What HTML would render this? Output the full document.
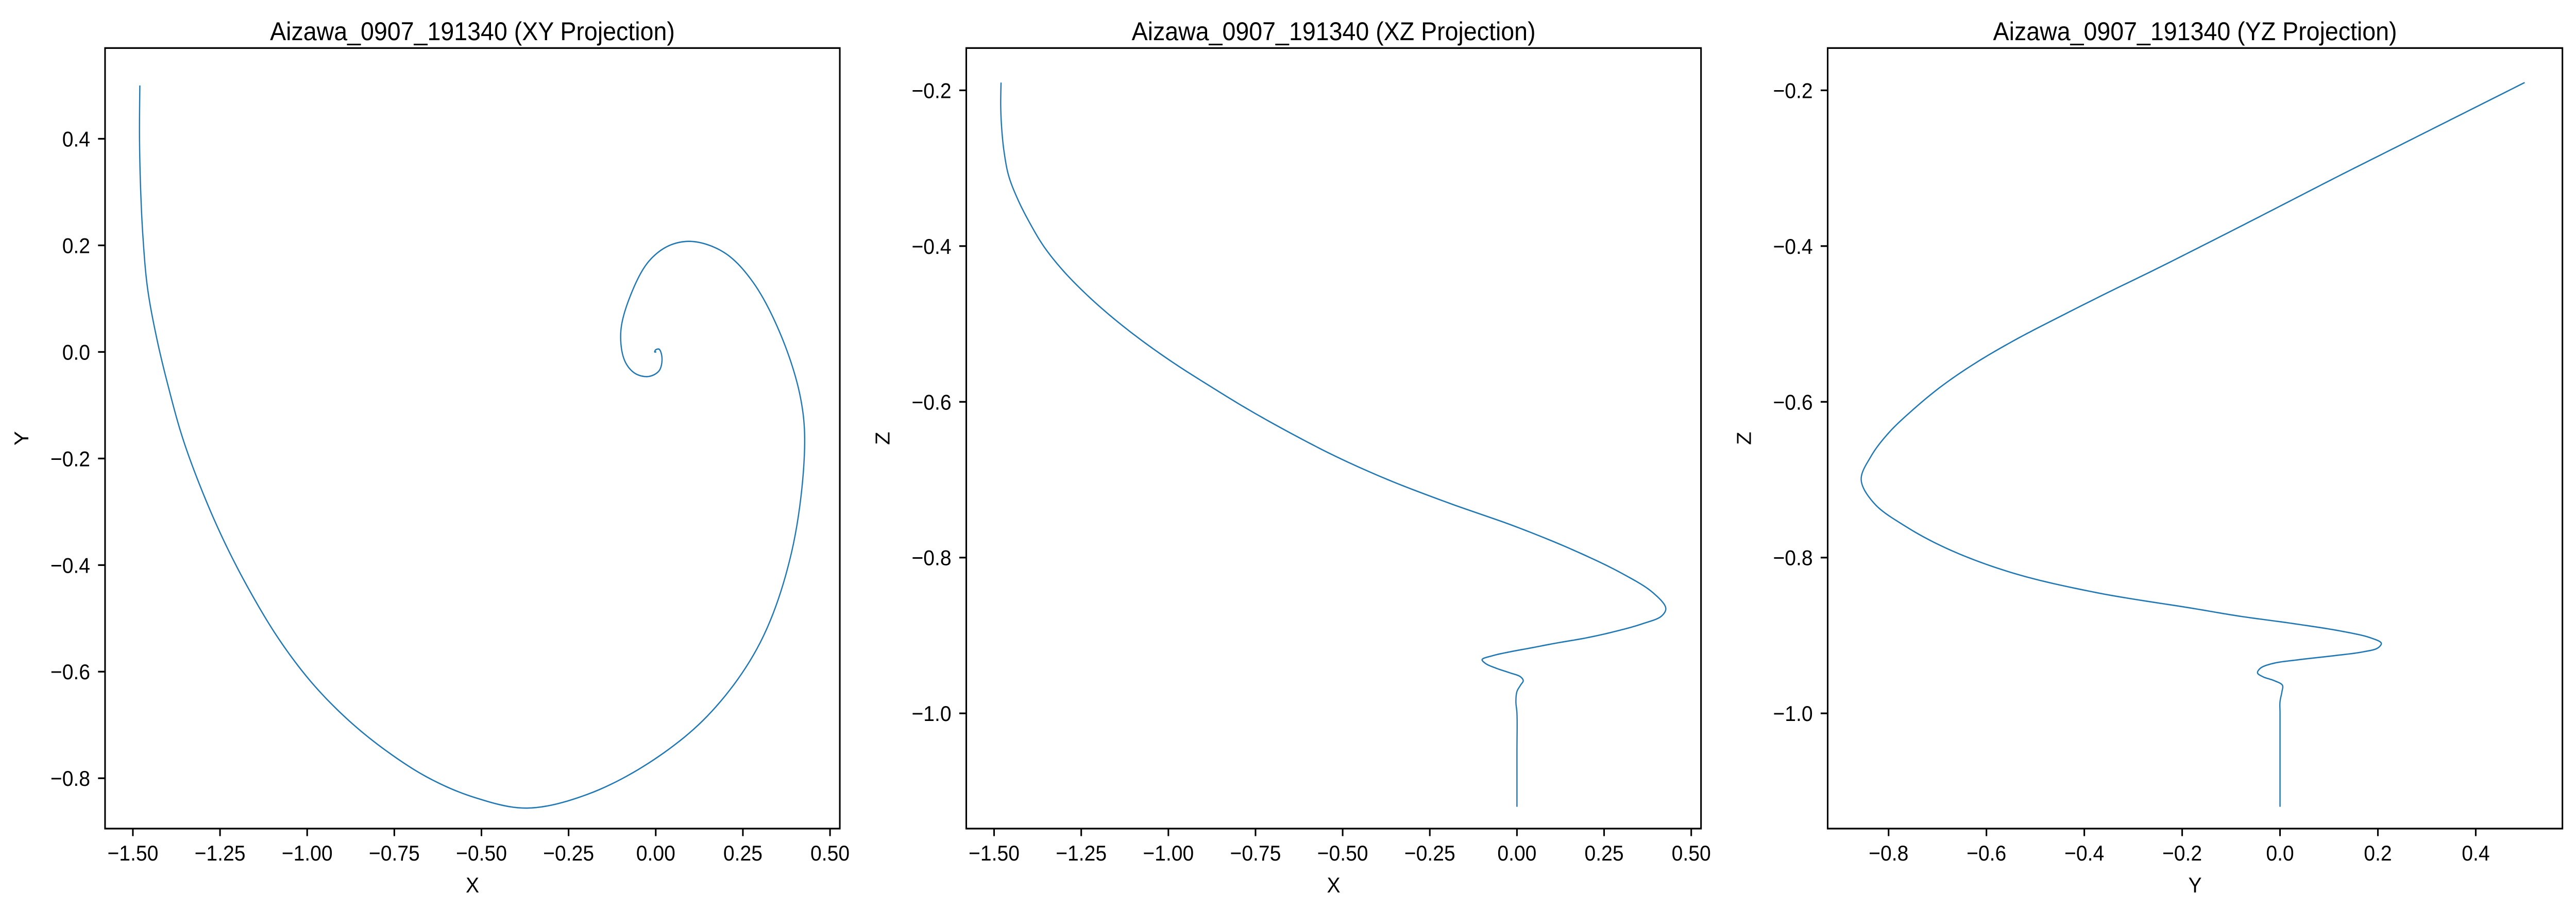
<!DOCTYPE html>
<html><head><meta charset="utf-8"><style>
html,body{margin:0;padding:0;background:#fff;overflow:hidden;width:100vw;height:100vh;}
svg{display:block;width:100vw;height:100vh;font-family:"Liberation Sans","DejaVu Sans",sans-serif;}
</style></head>
<body>
<svg id="fig" viewBox="0 0 5370 1769" preserveAspectRatio="none" xmlns="http://www.w3.org/2000/svg">
<rect width="5370" height="1769" fill="#fff"/>
</svg>
<script>
// Trajectory samples (x, y, z) read from the projections, in time order
const xs = [-1.480,-1.481,-1.478,-1.471,-1.458,-1.432,-1.398,-1.358,-1.305,-1.240,-1.165,-1.080,-0.985,-0.880,-0.770,-0.650,-0.520,-0.370,-0.195,-0.005,0.16,0.30,0.39,0.427,0.415,0.36,0.28,0.20,0.11,0.04,-0.02,-0.07,-0.10,-0.09,-0.06,-0.02,0.01,0.018,0.01,0.0,-0.003,0.0,0.0,0.0];
const ys = [0.500,0.405,0.310,0.215,0.120,0.027,-0.066,-0.160,-0.255,-0.353,-0.448,-0.540,-0.622,-0.692,-0.750,-0.800,-0.836,-0.856,-0.830,-0.765,-0.675,-0.545,-0.375,-0.180,-0.085,0.030,0.130,0.185,0.207,0.200,0.170,0.110,0.040,-0.015,-0.040,-0.046,-0.035,-0.012,0.005,0.004,0.0,0.0,0.0,0.0];
const zs = [-0.19,-0.22,-0.25,-0.28,-0.31,-0.34,-0.37,-0.40,-0.43,-0.46,-0.49,-0.52,-0.55,-0.58,-0.61,-0.64,-0.67,-0.70,-0.73,-0.76,-0.79,-0.82,-0.845,-0.865,-0.875,-0.885,-0.895,-0.903,-0.91,-0.916,-0.921,-0.926,-0.931,-0.936,-0.942,-0.948,-0.953,-0.958,-0.964,-0.972,-0.985,-1.0,-1.05,-1.12];
const xTicks = [-1.5,-1.25,-1.0,-0.75,-0.5,-0.25,0.0,0.25,0.5];
const xTickLabels = ["\u22121.50","\u22121.25","\u22121.00","\u22120.75","\u22120.50","\u22120.25","0.00","0.25","0.50"];
const yTicks = [0.4,0.2,0.0,-0.2,-0.4,-0.6,-0.8];
const yTickLabels = ["0.4","0.2","0.0","\u22120.2","\u22120.4","\u22120.6","\u22120.8"];
const zTicks = [-0.2,-0.4,-0.6,-0.8,-1.0];
const zTickLabels = ["\u22120.2","\u22120.4","\u22120.6","\u22120.8","\u22121.0"];
const yTicks3 = [-0.8,-0.6,-0.4,-0.2,0.0,0.2,0.4];
const yTickLabels3 = ["\u22120.8","\u22120.6","\u22120.4","\u22120.2","0.0","0.2","0.4"];

const NS = "http://www.w3.org/2000/svg";
const svg = document.getElementById('fig');
function el(tag, attrs, parent){const e=document.createElementNS(NS,tag);for(const k in attrs)e.setAttribute(k,attrs[k]);(parent||svg).appendChild(e);return e;}

const TOP=93.3, BOT=1609;
function linScale(v0,p0,v1,p1){return v=>p0+(v-v0)*(p1-p0)/(v1-v0);}

// centripetal Catmull-Rom -> densified polyline
function smoothPath(pts){
  const out=[pts[0]];
  const dist=(a,b)=>Math.max(1e-4,Math.pow(Math.hypot(b[0]-a[0],b[1]-a[1]),0.5));
  for(let i=0;i<pts.length-1;i++){
    const p0=pts[Math.max(0,i-1)],p1=pts[i],p2=pts[i+1],p3=pts[Math.min(pts.length-1,i+2)];
    const t0=0,t1=t0+dist(p0,p1),t2=t1+dist(p1,p2),t3=t2+dist(p2,p3);
    for(let s=1;s<=12;s++){
      const t=t1+(t2-t1)*s/12;
      const P=[0,1].map(k=>{
        const A1=(t1-t)/(t1-t0)*p0[k]+(t-t0)/(t1-t0)*p1[k];
        const A2=(t2-t)/(t2-t1)*p1[k]+(t-t1)/(t2-t1)*p2[k];
        const A3=(t3-t)/(t3-t2)*p2[k]+(t-t2)/(t3-t2)*p3[k];
        const B1=(t2-t)/(t2-t0)*A1+(t-t0)/(t2-t0)*A2;
        const B2=(t3-t)/(t3-t1)*A2+(t-t1)/(t3-t1)*A3;
        return (t2-t)/(t2-t1)*B1+(t-t1)/(t2-t1)*B2;
      });
      out.push(P);
    }
  }
  return "M"+out.map(p=>p[0].toFixed(2)+","+p[1].toFixed(2)).join(" L");
}

function panel(cfg){
  const g=el('g',{});
  
  
  const L=cfg.left,R=cfg.left+1531.7;
  const pts=cfg.hv.map((h,i)=>[cfg.sx(h),cfg.sy(cfg.vv[i])]);
  const path=el('path',{d:smoothPath(pts),fill:'none',stroke:'#1f77b4','stroke-width':2.6,'stroke-linejoin':'round'},g);
  
  
  const fr=el('rect',{x:L,y:TOP,width:R-L,height:BOT-TOP,fill:'none',stroke:'#000','stroke-width':3.3},g);
  
  
  cfg.xt.forEach((t,i)=>{
    const x=cfg.sx(t);
    const tk=el('line',{x1:x,y1:BOT,x2:x,y2:BOT+14.6,stroke:'#000','stroke-width':3.3},g);
    
    
    const tx=el('text',{x:x,y:1671,'font-size':42,'text-anchor':'middle',fill:'#000'},g);
    tx.textContent=cfg.xl[i];
    
    
  });
  cfg.yt.forEach((t,i)=>{
    const y=cfg.sy(t);
    const tk=el('line',{x1:L-14.6,y1:y,x2:L,y2:y,stroke:'#000','stroke-width':3.3},g);
    
    
    const tx=el('text',{x:L-31,y:y+15,'font-size':42,'text-anchor':'end',fill:'#000'},g);
    tx.textContent=cfg.yl[i];
    
    
  });
  const ti=el('text',{x:(L+R)/2,y:78,'font-size':50,'text-anchor':'middle',fill:'#000'},g);
  ti.textContent=cfg.title;
  
  
  const xl=el('text',{x:(L+R)/2,y:1733,'font-size':42,'text-anchor':'middle',fill:'#000'},g);
  xl.textContent=cfg.xlabel;
  
  
  const yx=L-160, yy=(TOP+BOT)/2;
  const yl=el('text',{x:yx,y:yy,'font-size':42,'text-anchor':'middle',fill:'#000',transform:'rotate(-90 '+yx+' '+yy+')'},g);
  yl.textContent=cfg.ylabel;
  
  
}

const sxXY=linScale(-1.5,277,0.5,1730.3);
const syXY=linScale(0.4,269.5,-0.8,1511.2);
panel({name:'xy-projection-panel',left:219,hv:xs,vv:ys,sx:sxXY,sy:syXY,xt:xTicks,xl:xTickLabels,yt:yTicks,yl:yTickLabels,title:'Aizawa_0907_191340 (XY Projection)',xlabel:'X',ylabel:'Y'});
const sxXZ=linScale(-1.5,2072.3,0.5,3525.6);
const sz=linScale(-0.2,175.4,-1.0,1385.2);
panel({name:'xz-projection-panel',left:2014.3,hv:xs,vv:zs,sx:sxXZ,sy:sz,xt:xTicks,xl:xTickLabels,yt:zTicks,yl:zTickLabels,title:'Aizawa_0907_191340 (XZ Projection)',xlabel:'X',ylabel:'Z'});
const sxYZ=linScale(-0.8,3937,0.4,5161);
panel({name:'yz-projection-panel',left:3810,hv:ys,vv:zs,sx:sxYZ,sy:sz,xt:yTicks3,xl:yTickLabels3,yt:zTicks,yl:zTickLabels,title:'Aizawa_0907_191340 (YZ Projection)',xlabel:'Y',ylabel:'Z'});
</script>
</body></html>
